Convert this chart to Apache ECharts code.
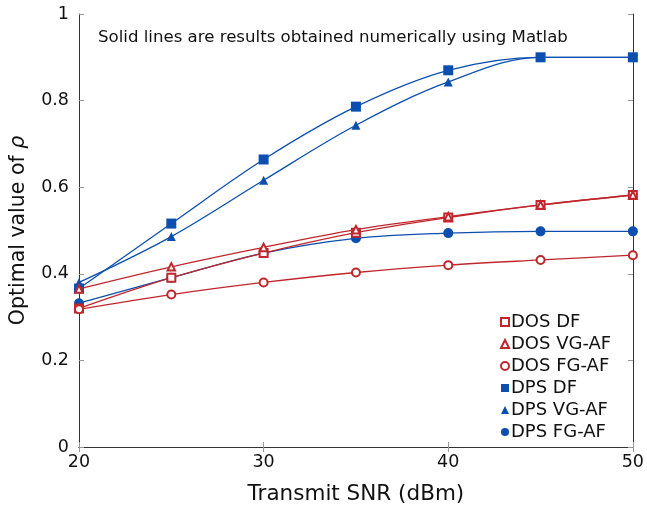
<!DOCTYPE html>
<html><head><meta charset="utf-8">
<script src="https://cdn.jsdelivr.net/npm/echarts@6/dist/echarts.min.js"></script>
<style>html,body{margin:0;padding:0;background:#fff}#c{width:647px;height:510px}</style>
</head><body><div id="c"></div>
<script>
const snr = [20, 25, 30, 35, 40, 45, 50];
const dosDF   = [0.320, 0.391, 0.448, 0.495, 0.530, 0.559, 0.582];
const dosVG   = [0.365, 0.416, 0.461, 0.502, 0.532, 0.559, 0.582];
const dosFG   = [0.318, 0.352, 0.380, 0.403, 0.420, 0.432, 0.443];
const dpsDF   = [0.366, 0.516, 0.664, 0.786, 0.870, 0.900, 0.900];
const dpsVG   = [0.380, 0.486, 0.616, 0.743, 0.843, 0.900, 0.900];
const dpsFG   = [0.332, 0.391, 0.448, 0.482, 0.494, 0.498, 0.498];
const xTicks = [20, 30, 40, 50];
const yTicks = [0, 0.2, 0.4, 0.6, 0.8, 1];
const note = 'Solid lines are results obtained numerically using Matlab';

const RED = '#c0272d', BLUE = '#0c4fae';
const FONT = 'DejaVu Sans';
function pairs(v){ return snr.map((x,i)=>[x, v[i]]); }
function ser(name, data, color, symbol, size, hollow){
  return {
    name, type:'line', data: pairs(data), smooth: 0.35, symbol, symbolSize: size,
    showAllSymbol: true,
    lineStyle:{color, width:1.3},
    itemStyle:{color, borderColor: color, borderWidth: hollow?1.2:0},
    emphasis:{disabled:true}, z: hollow?3:2
  };
}
const chart = echarts.init(document.getElementById('c'), null, {renderer:'canvas'});
const axisLine = {show:true, lineStyle:{color:'#333', width:1}};
const tick = {show:true, inside:true, length:5, lineStyle:{color:'#999'}};
chart.setOption({
  animation:false,
  grid:{left:78, right:10, top:14, bottom:56, containLabel:false},
  title:{text: note, left: 93, top: 24, textStyle:{fontFamily:FONT, fontSize:16.6, fontWeight:'normal', color:'#111'}},
  legend:{
    orient:'vertical', left: 495, top: 308, itemWidth:8, itemHeight:8, itemGap:4,
    textStyle:{fontFamily:FONT, fontSize:18, color:'#111', padding:[0,0,0,-3]},
    data:[
      {name:'DOS DF', icon:'emptyRect', itemStyle:{borderWidth:1.2}},
      {name:'DOS VG-AF', icon:'emptyTriangle', itemStyle:{borderWidth:1.2}},
      {name:'DOS FG-AF', icon:'emptyCircle', itemStyle:{borderWidth:1.2}},
      {name:'DPS DF', icon:'rect'},
      {name:'DPS VG-AF', icon:'triangle'},
      {name:'DPS FG-AF', icon:'circle'}
    ]
  },
  xAxis:[{
    type:'value', min:20, max:50, interval:10,
    name:'Transmit SNR (dBm)', nameLocation:'middle', nameGap:36,
    nameTextStyle:{fontFamily:FONT, fontSize:21.5, color:'#111'},
    axisLine, axisTick:tick, splitLine:{show:false},
    axisLabel:{fontFamily:FONT, fontSize:17.5, color:'#111', margin:6,
      customValues: xTicks}
  },{
    type:'value', position:'top', min:20, max:50, interval:10,
    axisLine, axisTick:tick, axisLabel:{show:false}, splitLine:{show:false}
  }],
  yAxis:[{
    type:'value', min:0, max:1, interval:0.2,
    name:'Optimal value of {i|ρ}', nameLocation:'middle', nameGap:50, nameRotate:90,
    nameTextStyle:{fontFamily:FONT, fontSize:20.5, color:'#111',
      rich:{i:{fontFamily:FONT, fontSize:20.5, fontStyle:'italic', color:'#111'}}},
    axisLine, axisTick:tick, splitLine:{show:false},
    axisLabel:{fontFamily:FONT, fontSize:17.5, color:'#111', margin:10,
      formatter: v => yTicks.includes(+v.toFixed(1)) ? String(+v.toFixed(1)) : ''}
  },{
    type:'value', position:'right', min:0, max:1, interval:0.2,
    axisLine, axisTick:tick, axisLabel:{show:false}, splitLine:{show:false}
  }],
  series:[
    ser('DOS DF', dosDF, RED, 'emptyRect', 8, true),
    ser('DOS VG-AF', dosVG, RED, 'emptyTriangle', 7.5, true),
    ser('DOS FG-AF', dosFG, RED, 'emptyCircle', 8, true),
    ser('DPS DF', dpsDF, BLUE, 'rect', 10, false),
    ser('DPS VG-AF', dpsVG, BLUE, 'triangle', 9, false),
    ser('DPS FG-AF', dpsFG, BLUE, 'circle', 10, false)
  ]
});
</script></body></html>
